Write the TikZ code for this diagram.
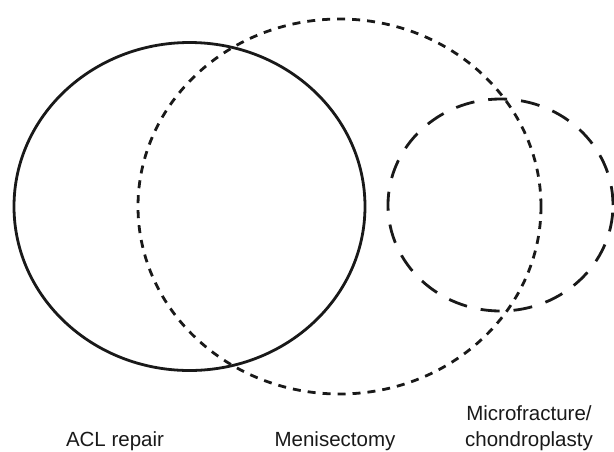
\documentclass[tikz,border=0pt]{standalone}
\usepackage{fontspec}
\setmainfont{Liberation Sans}
\usetikzlibrary{shapes.geometric}
\definecolor{ink}{RGB}{25,25,25}

\begin{document}
\begin{tikzpicture}[x=1pt, y=-1pt, font=\fontsize{20.5}{26}\selectfont,
  set/.style={ellipse, draw=ink, line width=2.8pt, inner sep=0pt},
  lab/.style={text=ink, anchor=base, align=center, inner sep=0pt}]
\useasboundingbox (0,0) rectangle (614,451);

% the three procedure sets
\node[set, minimum width=351, minimum height=328] at (189.5,206.5) (acl) {};
\node[set, dash pattern=on 8pt off 7pt, minimum width=403, minimum height=375] at (339.5,206.5) (men) {};
\node[set, dash pattern=on 19pt off 14pt, minimum width=225, minimum height=212] at (500.5,205) (mic) {};

% labels under the sets
\node[lab] at (115,446) (acltxt) {ACL repair};
\node[lab] at (335,446) (mentxt) {Menisectomy};
\node[lab] at (529,446) (mictxt) {Microfracture/\\chondroplasty};
\end{tikzpicture}
\end{document}
